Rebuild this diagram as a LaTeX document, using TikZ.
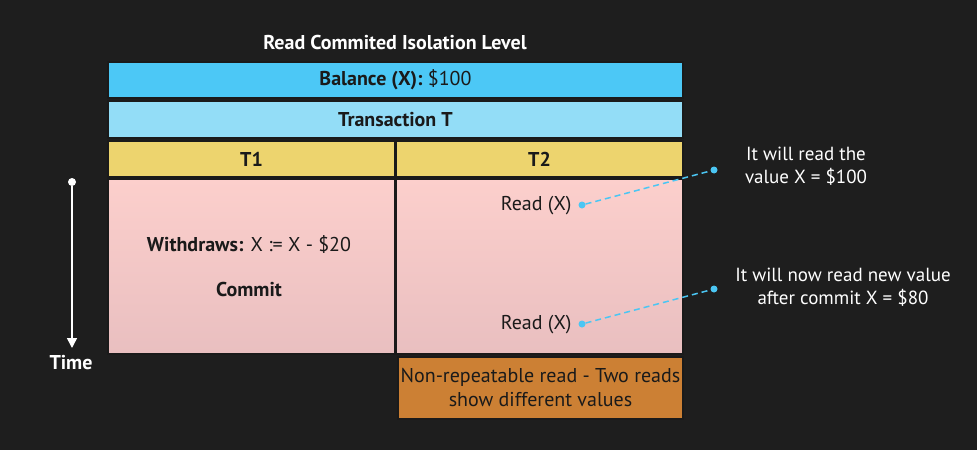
\documentclass[tikz,border=0pt]{standalone}
\usepackage{fontspec}
\setmainfont{PT Sans}
\usetikzlibrary{positioning,arrows.meta}
\definecolor{bgdark}{HTML}{1E1E1E}
\definecolor{balblue}{HTML}{4CC8F6}
\definecolor{transblue}{HTML}{93DDF7}
\definecolor{hdryellow}{HTML}{EDD46E}
\definecolor{pinktop}{HTML}{FCCFCC}
\definecolor{pinkbot}{HTML}{E9BFC0}
\definecolor{notebrown}{HTML}{CC8034}
\definecolor{dotblue}{HTML}{4BC6F3}
\definecolor{inkdark}{HTML}{1A1A1A}

\begin{document}
\begin{tikzpicture}[x=1pt, y=-1pt,
    every node/.style={font=\fontsize{20}{24}\selectfont, text=inkdark},
    cell/.style={draw=inkdark, line width=1.6pt, rectangle, inner sep=0pt},
    pink/.style={cell, top color=pinktop, bottom color=pinkbot, minimum width=287pt, minimum height=175pt},
    dot/.style={circle, fill=dotblue, inner sep=0pt, minimum size=7pt},
    dashline/.style={draw=dotblue, line width=1.5pt, dash pattern=on 6pt off 4pt},
    remark/.style={text=white, align=center, font=\fontsize{19}{23}\selectfont}]
  % background
  \fill[bgdark] (0,0) rectangle (977,450);
  \node[text=white] (title) at (395,42) {\textbf{Read Commited Isolation Level}};
  % table
  \node[cell, fill=balblue, minimum width=575pt, minimum height=36pt] (bal) at (395.5,80) {\textbf{Balance (X):} \$100};
  \node[cell, fill=transblue, minimum width=575pt, minimum height=37pt] (trans) at (395.5,119.5) {\textbf{Transaction T}};
  \node[cell, fill=hdryellow, minimum width=287pt, minimum height=36pt] (t1) at (251.5,159) {\textbf{T1}};
  \node[cell, fill=hdryellow, minimum width=287pt, minimum height=36pt] (t2) at (539.5,159) {\textbf{T2}};
  \node[pink] (body1) at (251.5,266.5) {};
  \node[pink] (body2) at (539.5,266.5) {};
  \node[cell, fill=notebrown, minimum width=285pt, minimum height=62pt, align=center] (note) at (540.5,388)
    {Non-repeatable read - Two reads\\show different values};
  % T1 steps
  \node (withdraw) at (249,244) {\textbf{Withdraws:} X := X - \$20};
  \node (commit) at (249,289) {\textbf{Commit}};
  % T2 steps
  \node[anchor=east] (read1) at (575,206) {Read (X)};
  \node[anchor=east] (read2) at (575,325) {Read (X)};
  \node[dot] (d1) at (582,205) {};
  \node[dot] (d2) at (582,324) {};
  \node[dot] (c1) at (714,170) {};
  \node[dot] (c2) at (714,289) {};
  \draw[dashline] (d1) -- (c1);
  \draw[dashline] (d2) -- (c2);
  \node[remark] (cm1) at (806,166) {It will read the\\value X = \$100};
  \node[remark] (cm2) at (843,287) {It will now read new value\\after commit X = \$80};
  % time axis
  \node[circle, fill=white, inner sep=0pt, minimum size=8pt] (tstart) at (72,182) {};
  \coordinate (tend) at (72,348);
  \draw[white, line width=1.5pt, -{Triangle[length=10pt, width=10pt]}] (tstart) -- (tend);
  \node[text=white] (time) at (71,363) {\textbf{Time}};
\end{tikzpicture}
\end{document}
